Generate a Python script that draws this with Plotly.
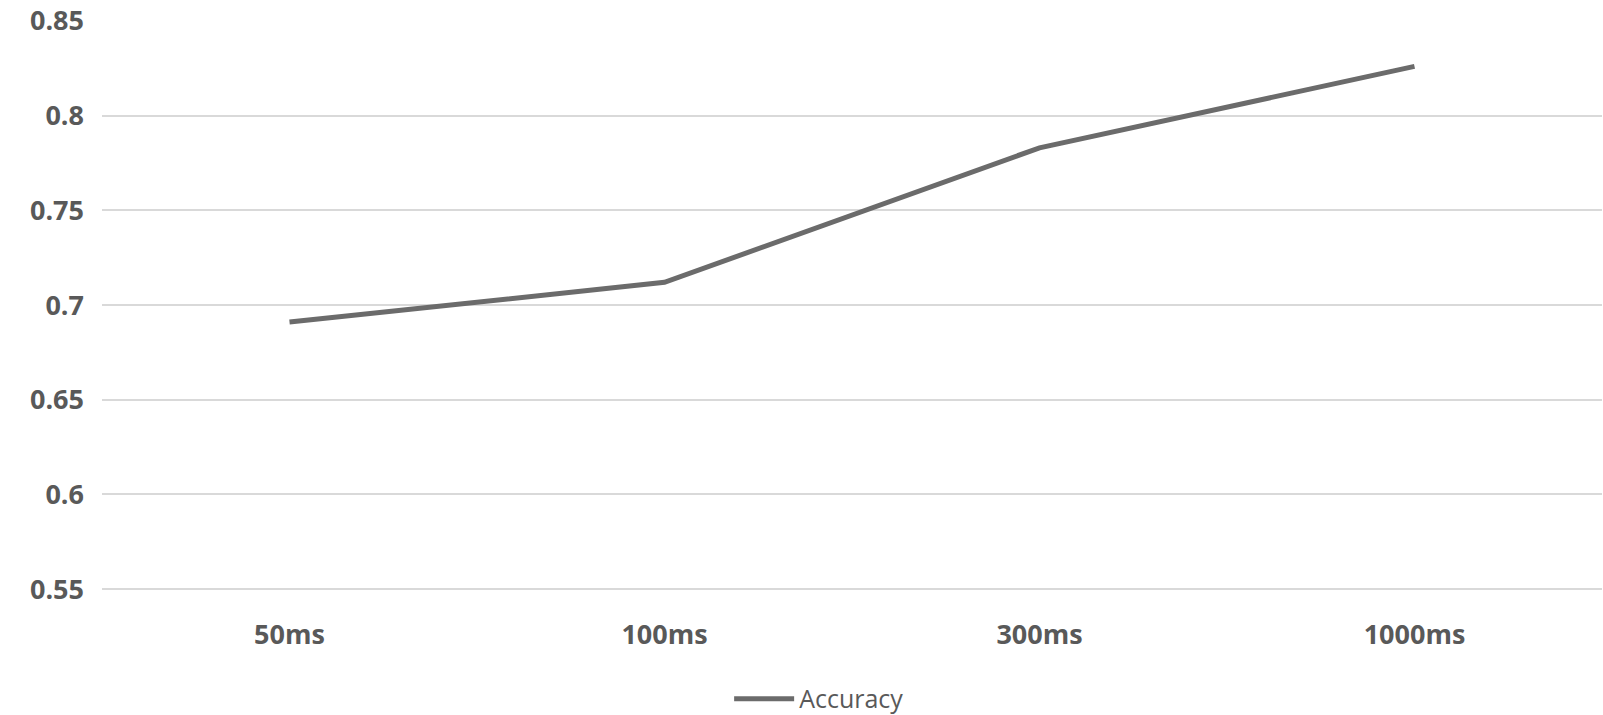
import plotly.graph_objects as go

# Accuracy by observation window
windows = ["50ms", "100ms", "300ms", "1000ms"]
accuracy = [0.691, 0.712, 0.783, 0.826]

y_ticks = [0.55, 0.6, 0.65, 0.7, 0.75, 0.8, 0.85]
y_tick_text = ["0.55", "0.6", "0.65", "0.7", "0.75", "0.8", "0.85"]

label_grey = "#595959"
line_grey = "#6b6b6b"
grid_grey = "#d9d9d9"

fig = go.Figure(
    go.Scatter(
        x=windows,
        y=accuracy,
        mode="lines",
        name="Accuracy",
        line=dict(color=line_grey, width=5),
    )
)

fig.update_layout(
    width=1603,
    height=715,
    margin=dict(l=102, r=1, t=20, b=123),
    paper_bgcolor="white",
    plot_bgcolor="white",
    showlegend=True,
    legend=dict(
        orientation="h",
        x=0.511,
        xref="container",
        xanchor="center",
        y=0.0224,
        yref="container",
        yanchor="middle",
        font=dict(family="Open Sans", size=25, color=label_grey),
        itemwidth=60,
    ),
    xaxis=dict(
        type="category",
        range=[-0.5, 3.5],
        showgrid=False,
        zeroline=False,
        showline=False,
        ticks="",
        ticklabelstandoff=24,
        automargin=False,
        tickfont=dict(family="Open Sans", size=27, color=label_grey, weight="bold"),
    ),
    yaxis=dict(
        range=[0.5485, 0.8505],
        tickvals=y_ticks,
        ticktext=y_tick_text,
        showgrid=True,
        gridcolor=grid_grey,
        gridwidth=2,
        zeroline=False,
        showline=False,
        ticks="",
        ticklabelstandoff=17,
        automargin=False,
        tickfont=dict(family="Open Sans", size=27, color=label_grey, weight="bold"),
    ),
)

fig.write_html("out.html")
